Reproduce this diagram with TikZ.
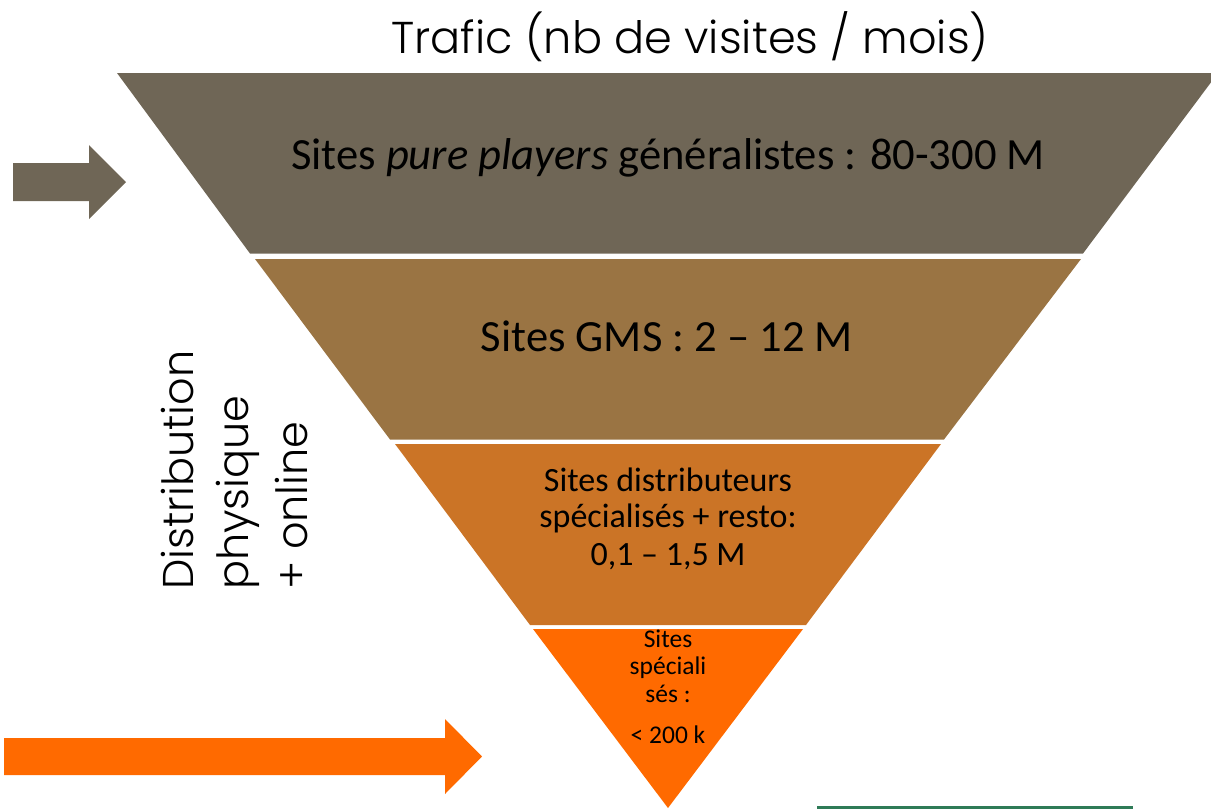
\documentclass[tikz,border=0pt]{standalone}
\usepackage{fontspec}
\setmainfont{Carlito}
\newfontfamily\gothic{Poppins Light}
\definecolor{bandA}{HTML}{6F6656}
\definecolor{bandB}{HTML}{9A7443}
\definecolor{bandC}{HTML}{CB7426}
\definecolor{bandD}{HTML}{FF6A00}
\definecolor{arrGray}{HTML}{6F6656}
\definecolor{arrOr}{HTML}{FF6A00}
\definecolor{lineG}{HTML}{2E7B57}
\begin{document}
\begin{tikzpicture}[x=1pt,y=-1pt,
  lbl/.style={inner sep=0pt, anchor=base, text=black},
  big/.style={lbl, font=\fontsize{44.6}{52}\selectfont},
  mid/.style={lbl, font=\fontsize{34}{40}\selectfont},
  small/.style={lbl, font=\fontsize{25.5}{30}\selectfont},
  side/.style={inner sep=0pt, anchor=base west, rotate=90, font=\gothic\fontsize{43}{52}\selectfont}]
\useasboundingbox (0,0) rectangle (1211,809);
\clip (0,0) rectangle (1211,809);
% bands
\fill[bandA] (117,73) -- (1218,73) -- (1083,253.5) -- (250,253.5) -- cycle;
\fill[bandB] (255,259) -- (1081,259) -- (944,439.5) -- (390,439.5) -- cycle;
\fill[bandC] (395,444) -- (941,444) -- (806,625) -- (530,625) -- cycle;
\fill[bandD] (533,629) -- (803,629) -- (668,808) -- cycle;
% arrows
\fill[arrGray] (13,163) -- (89,163) -- (89,145) -- (126,182) -- (89,219) -- (89,201) -- (13,201) -- cycle;
\fill[arrOr] (4,738) -- (445,738) -- (445,719) -- (482,756.5) -- (445,794) -- (445,775) -- (4,775) -- cycle;
% green line
\fill[lineG] (817,805.5) rectangle (1133,809);
% title
\node[inner sep=0pt, anchor=base, font=\gothic\fontsize{44.6}{52}\selectfont] (title) at (690,53) {Trafic (nb de visites / mois)};
% band texts
\node[big] (t1) at (668,169) {Sites \textit{pure players} généralistes : 80-300 M};
\node[big] (t2) at (667,351) {Sites GMS : 2 – 12 M};
\node[mid] (t3a) at (668,491) {Sites distributeurs};
\node[mid] (t3b) at (668,527) {spécialisés + resto:};
\node[mid] (t3c) at (668,565) {0,1 – 1,5 M};
\node[small] (t4a) at (668,647) {Sites};
\node[small] (t4b) at (668,674) {spéciali};
\node[small] (t4c) at (668,702) {sés :};
\node[small] (t4d) at (668,743) {< 200 k};
% side text
\node[side] (s1) at (193,590) {Distribution};
\node[side] (s2) at (248,590) {physique};
\node[side] (s3) at (307,590) {+ online};
\end{tikzpicture}
\end{document}
